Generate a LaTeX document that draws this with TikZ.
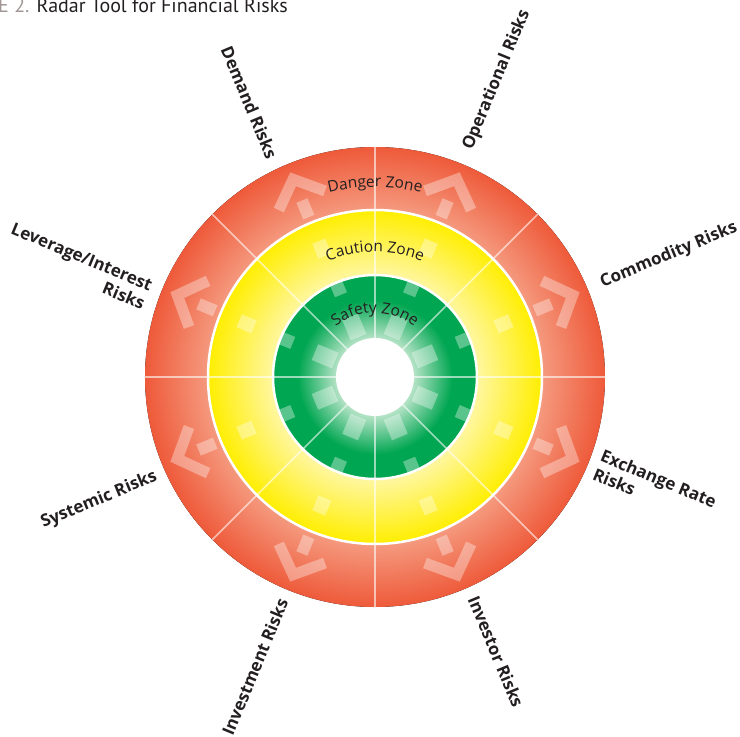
\documentclass[tikz,border=0pt]{standalone}
\usepackage{fontspec}
\setmainfont{Open Sans}
\newfontfamily\titlefont{PT Sans}
\usetikzlibrary{decorations.text}

\definecolor{dangerin}{HTML}{F59B80}
\definecolor{dangerout}{HTML}{EE5A3A}
\definecolor{cautionin}{HTML}{FFF7A6}
\definecolor{cautionout}{HTML}{FFEE00}
\definecolor{safetyin}{HTML}{B5E3C6}
\definecolor{safetyout}{HTML}{00A651}
\definecolor{titlegrey}{HTML}{A09696}
\definecolor{labeltext}{HTML}{231F20}

\pgfdeclareradialshading{dangershade}{\pgfpoint{0bp}{0bp}}{color(0bp)=(dangerin); color(18bp)=(dangerin); color(25bp)=(dangerout); color(50bp)=(dangerout)}
\pgfdeclareradialshading{cautionshade}{\pgfpoint{0bp}{0bp}}{color(0bp)=(cautionin); color(15bp)=(cautionin); color(25bp)=(cautionout); color(50bp)=(cautionout)}
\pgfdeclareradialshading{safetyshade}{\pgfpoint{0bp}{0bp}}{color(0bp)=(safetyin); color(9.5bp)=(safetyin); color(19bp)=(safetyout); color(50bp)=(safetyout)}

\tikzset{
  risklabel/.style={font=\fontsize{17}{20}\selectfont\bfseries, text=labeltext, inner sep=0pt},
  tile/.style={fill=white, fill opacity=0.35},
  chev/.style={draw=white, draw opacity=0.35, line width=11pt, line join=miter},
  spoke/.style={draw=white, draw opacity=0.6, line width=1.6pt},
  ring/.style={draw=white, line width=2.5pt},
  zonetext/.style={decorate, decoration={text along path, text align=center, text={|\fontsize{15.5}{17}\selectfont\color{labeltext}|#1}}}
}

\begin{document}
\begin{tikzpicture}[x=1pt,y=1pt]

\useasboundingbox (-375,-360) rectangle (365,377);

\fill[shading=dangershade] (0,0) circle (230);
\fill[shading=cautionshade] (0,0) circle (167);
\fill[shading=safetyshade] (0,0) circle (102);

\foreach \a in {22.5,67.5,...,337.5} {
  \begin{scope}[rotate=\a]
    \fill[tile] (43,-8.5) rectangle (65,8.5);
    \fill[tile] (89,-6.5) rectangle (103,6.5);
    \fill[tile] (131,-7) rectangle (147,7);
    \fill[tile] (173,-6) rectangle (191,6);
    \draw[chev] (191,25) -- (214,0) -- (191,-25);
  \end{scope}
}

\foreach \b in {0,45,...,315}
  \draw[spoke] (\b:39) -- (\b:230);

\draw[ring] (0,0) circle (167);
\draw[ring] (0,0) circle (102);
\fill[white] (0,0) circle (39);

\path[zonetext={Danger Zone}] (160:190) arc[start angle=160, end angle=20, radius=190];
\path[zonetext={Caution Zone}] (160:125) arc[start angle=160, end angle=20, radius=125];
\path[zonetext={Safety Zone}] (160:64) arc[start angle=160, end angle=20, radius=64];

\node[anchor=base west, inner sep=0pt, font=\titlefont\fontsize{20}{22}\selectfont, text=labeltext]
(title)
at (-377,364)
{\textcolor{titlegrey}{E 2.} Radar Tool for Financial Risks};

\node[risklabel, rotate=-67.5]
(demand)
at (114.6:302)
{Demand Risks};

\node[risklabel, rotate=67.5]
(operational)
at (67.7:321)
{Operational Risks};

\node[risklabel, rotate=22.5]
(commodity)
at (22.5:318)
{Commodity Risks};

\node[risklabel, rotate=-22.5, align=left]
(exchange)
at (-21.6:301)
{Exchange Rate\\Risks};

\node[risklabel, rotate=-67.5]
(investor)
at (-66.2:300)
{Investor Risks};

\node[risklabel, rotate=67.5]
(investment)
at (-112.5:314)
{Investment Risks};

\node[risklabel, rotate=22.5]
(systemic)
at (204:302)
{Systemic Risks};

\node[risklabel, rotate=-22.5, align=right]
(leverage)
at (159.5:317)
{Leverage/Interest\\Risks};

\end{tikzpicture}
\end{document}
